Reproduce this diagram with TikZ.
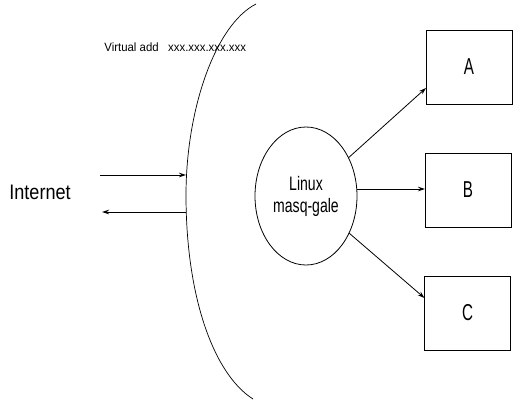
\documentclass[tikz,border=0pt]{standalone}
\usepackage{fontspec}
\usetikzlibrary{arrows.meta,shapes.geometric,calc}
\setmainfont{Liberation Sans}
\newfontfamily\condA[FakeStretch=0.86]{Liberation Sans}
\newfontfamily\condB[FakeStretch=0.72]{Liberation Sans}
\newfontfamily\condC[FakeStretch=0.66]{Liberation Sans}
\newfontfamily\condD[FakeStretch=0.95]{Liberation Sans}
\begin{document}
\begin{tikzpicture}[x=1pt,y=-1pt,
  line width=0.8pt,
  hostbox/.style={draw,rectangle,minimum width=86pt,minimum height=74pt,inner sep=0pt,font=\condC\fontsize{23}{26}\selectfont},
  gate/.style={draw,ellipse,minimum width=102pt,minimum height=138pt,inner sep=0pt,align=center,font=\condB\fontsize{19.5}{23}\selectfont},
  arr/.style={-{Stealth[length=7pt,width=4.5pt]}}
]
\useasboundingbox (0,0) rectangle (516,402);
% boundary curve
\draw[line width=0.7pt] (256,4) .. controls (215,25) and (186,110) .. (186,195)
      .. controls (186,300) and (215,375) .. (253,399);
% label
\node[anchor=west,inner sep=0pt,font=\condD\fontsize{12}{14}\selectfont] (vlabel) at (104,47) {Virtual add\ \ \ xxx.xxx.xxx.xxx};
% internet
\node[font=\condA\fontsize{21}{24}\selectfont,inner sep=0pt] (inet) at (40,192) {Internet};
\coordinate (i1s) at (100,175);
\coordinate (i1e) at (186,175);
\coordinate (i2s) at (186,212);
\coordinate (i2e) at (102,212);
\draw[arr] (i1s) -- (i1e);
\draw[arr] (i2s) -- (i2e);
% gateway
\node[gate] (gw) at (306,196) {Linux\\[-1pt]masq-gale};
% hosts
\node[hostbox] (A) at (469,67) {A};
\node[hostbox] (B) at (468,190) {B};
\node[hostbox] (C) at (467.5,313) {C};
\coordinate (aend) at (426,88);
\coordinate (bend) at (425,189);
\coordinate (cend) at (424.5,298);
\draw[arr] (gw) -- (aend);
\draw[arr] (gw.east |- bend) -- (bend);
\draw[arr] (gw) -- (cend);
\end{tikzpicture}
\end{document}
